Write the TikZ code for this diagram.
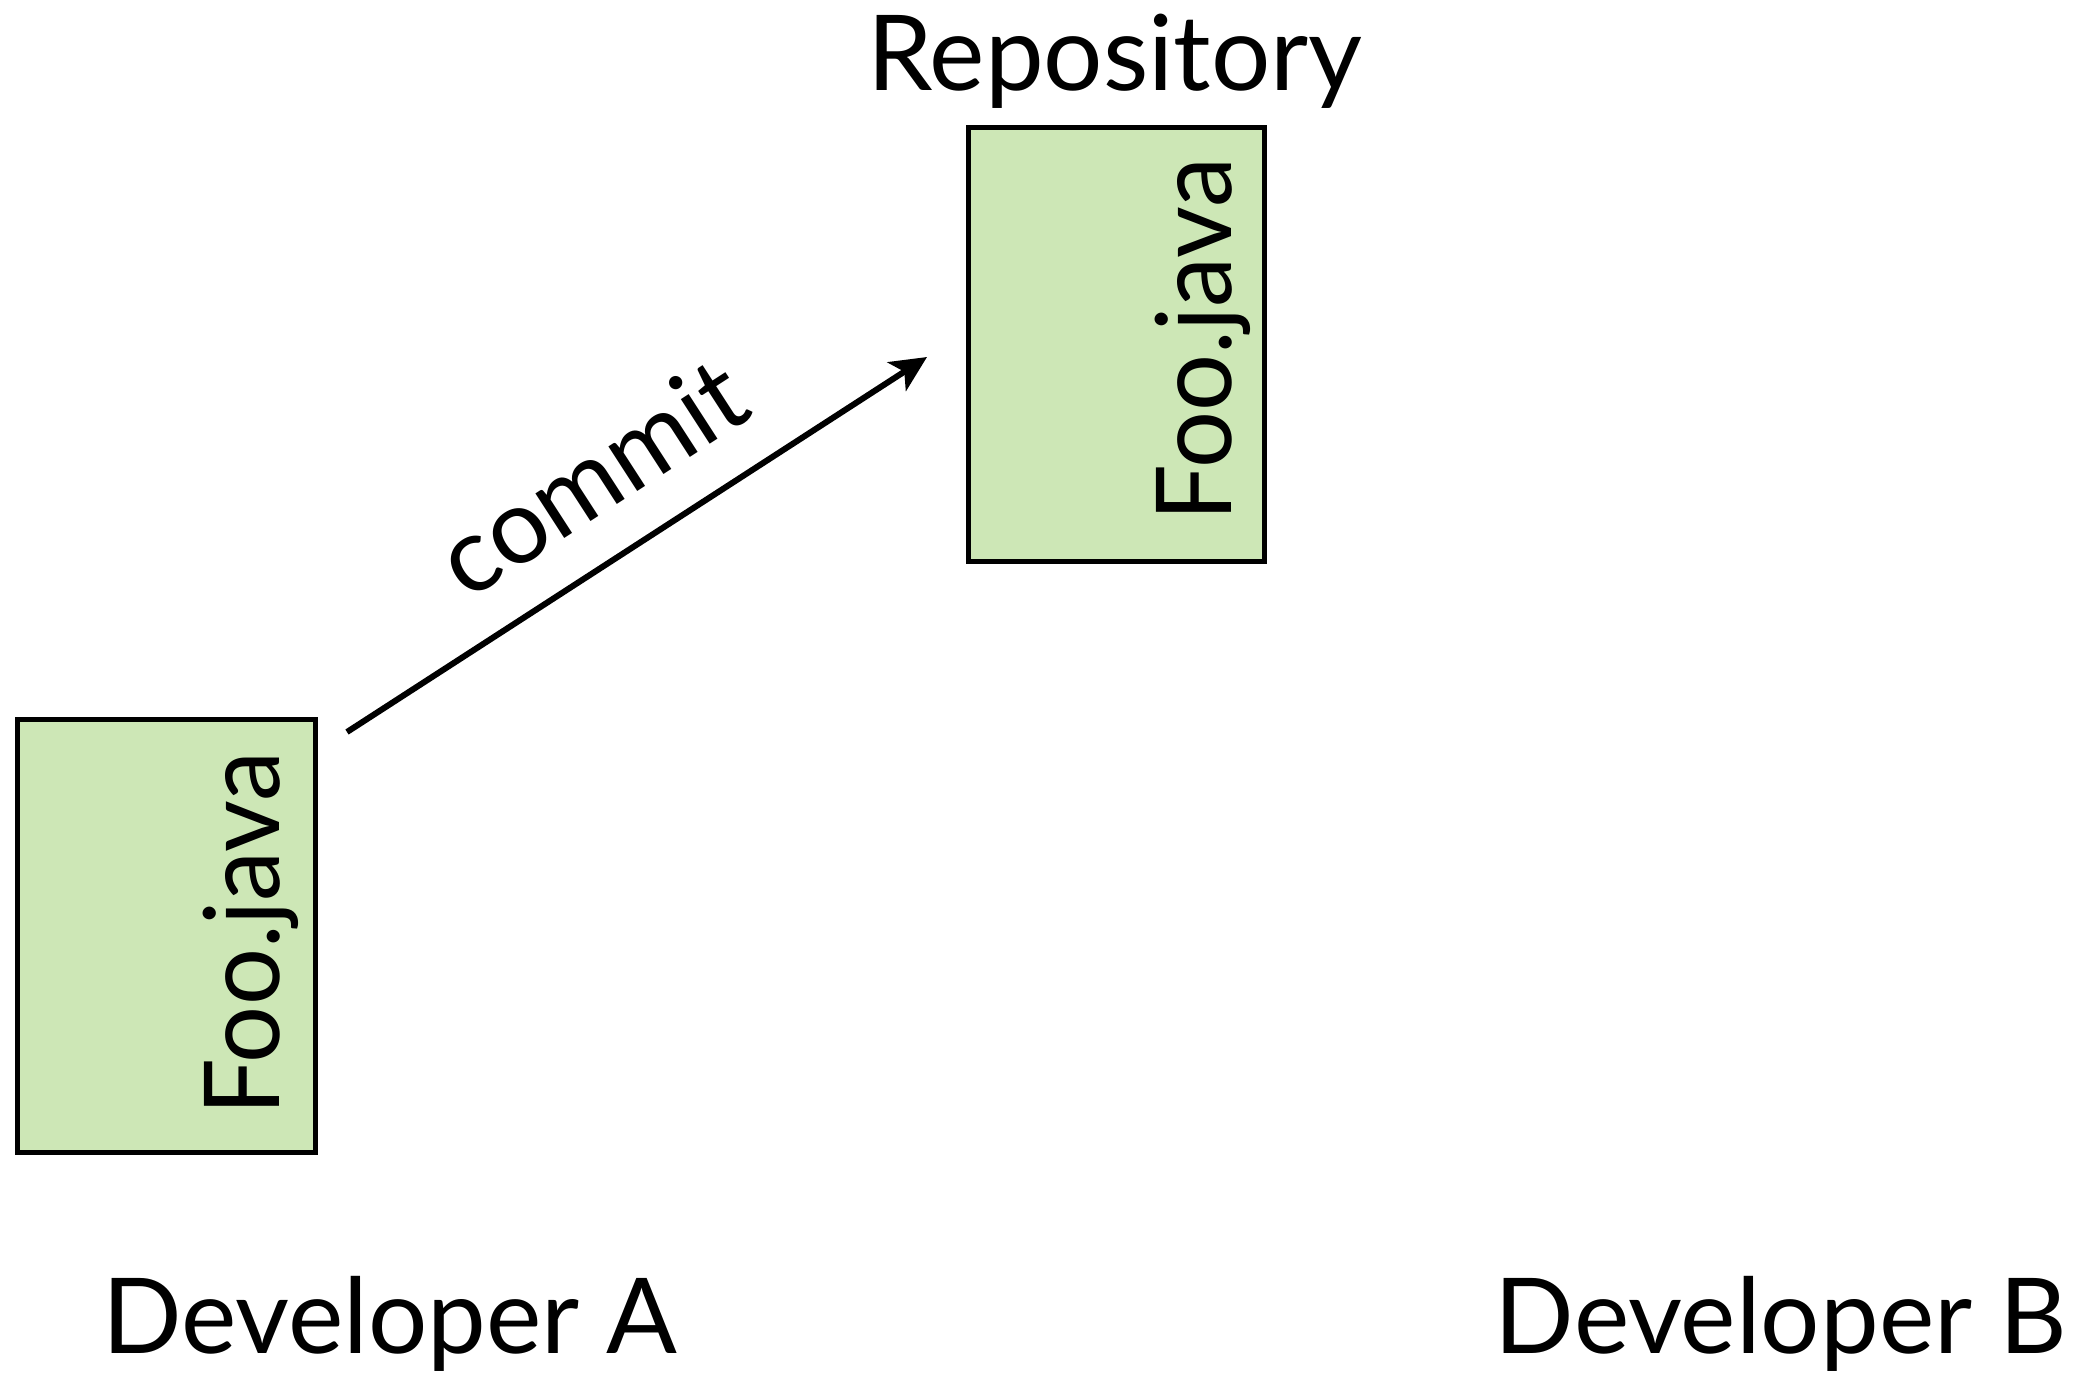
\documentclass[tikz,border=0pt]{standalone}
\usepackage{fontspec}
\setmainfont{Lato}
\usetikzlibrary{arrows.meta}
\definecolor{filegreen}{RGB}{205,231,182}
\begin{document}
\begin{tikzpicture}[x=0.5pt,y=-0.5pt,
  bigtext/.style={inner sep=0pt, font=\fontsize{52.4pt}{60pt}\selectfont},
  filetext/.style={bigtext, rotate=90, anchor=base west, font=\fontsize{52.4pt}{60pt}\selectfont\addfontfeature{FakeStretch=0.96}},
  filebox/.style={draw=black, line width=2.5pt, fill=filegreen},
  commitarrow/.style={line width=3pt, -{Stealth[length=18pt, width=17pt, inset=4.5pt]}}]
\useasboundingbox (0,0) rectangle (2080,1378);
% boxes
\draw[filebox] (968,127) rectangle (1264,561);
\draw[filebox] (17,719) rectangle (315,1152);
\node[filetext] (foorepo) at (1231,522) {Foo.java};
\node[filetext] (fooa) at (279,1116) {Foo.java};
% labels
\node[bigtext, anchor=base] (repolabel) at (1115,90) {Repository};
\node[bigtext, anchor=base] (deva) at (390,1353) {Developer A};
\node[bigtext, anchor=base] (devb) at (1781,1353) {Developer B};
% arrow
\coordinate (s) at (347,732);
\coordinate (t) at (927,357);
\draw[commitarrow] (s) -- (t);
\node[bigtext, rotate=32.9, anchor=base] (commit) at (612,508) {commit};
\end{tikzpicture}
\end{document}
